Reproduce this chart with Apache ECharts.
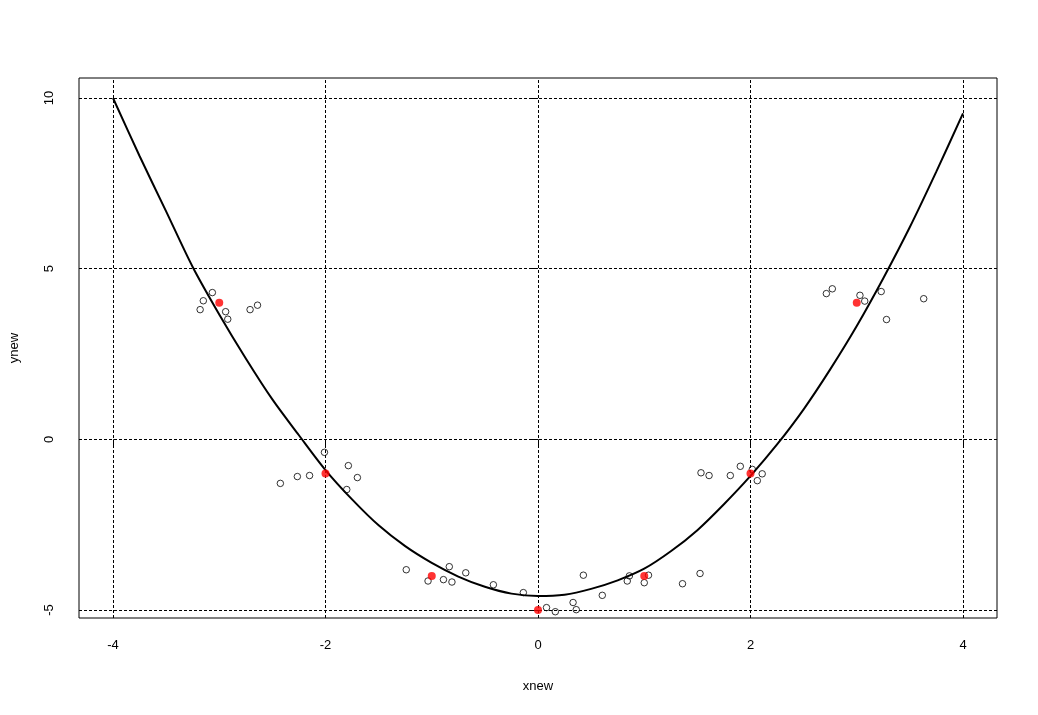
<!DOCTYPE html>
<html>
<head>
<meta charset="utf-8">
<script src="https://cdn.jsdelivr.net/npm/echarts@6/dist/echarts.min.js"></script>
<style>html,body{margin:0;padding:0;background:#fff;}#c{width:1038px;height:715px;}</style>
</head>
<body>
<div id="c"></div>
<script>
// fitted curve (xnew, ynew)
var curveX = [-4, -3.75, -3.5, -3.25, -3, -2.75, -2.5, -2.25, -2, -1.75, -1.5, -1.25, -1, -0.75, -0.5, -0.25, 0, 0.25, 0.5, 0.75, 1, 1.25, 1.5, 1.75, 2, 2.25, 2.5, 2.75, 3, 3.25, 3.5, 3.75, 4];
var curveY = [10.0, 8.3, 6.68, 5.05, 3.66, 2.37, 1.17, 0.12, -0.9, -1.76, -2.52, -3.13, -3.62, -4.02, -4.32, -4.52, -4.59, -4.55, -4.38, -4.13, -3.79, -3.28, -2.66, -1.9, -1.07, -0.15, 0.88, 2.05, 3.32, 4.72, 6.22, 7.85, 9.55];
// noisy observations (open circles)
var obsX = [-3.065, -3.15, -3.18, -2.94, -2.92, -2.71, -2.64,
            -2.01, -1.785, -1.70, -1.80, -2.15, -2.265, -2.425,
            -1.24, -1.035, -0.89, -0.835, -0.81, -0.68, -0.42,
            -0.138, 0.08, 0.163, 0.33, 0.36, 0.427,
            0.605, 0.84, 0.86, 1.0, 1.04, 1.36, 1.525,
            1.534, 1.61, 1.81, 1.904, 2.017, 2.11, 2.064,
            2.714, 2.77, 3.03, 3.075, 3.23, 3.28, 3.63];
var obsY = [4.30, 4.06, 3.80, 3.74, 3.52, 3.80, 3.93,
            -0.38, -0.77, -1.12, -1.47, -1.06, -1.09, -1.29,
            -3.82, -4.15, -4.11, -3.73, -4.18, -3.91, -4.26,
            -4.49, -4.93, -5.05, -4.78, -4.99, -3.98,
            -4.57, -4.15, -4.0, -4.2, -3.98, -4.23, -3.93,
            -0.98, -1.06, -1.06, -0.79, -0.88, -1.01, -1.21,
            4.27, 4.41, 4.22, 4.05, 4.33, 3.51, 4.12];
// true points (red)
var trueX = [-3, -2, -1, 0, 1, 2, 3];
var trueY = [4, -1, -4, -5, -4, -1, 4];
// ticks / grid
var xTicks = [-4, -2, 0, 2, 4];
var yTicks = [-5, 0, 5, 10];

function zip(a, b) { return a.map(function (v, i) { return [v, b[i]]; }); }

var font = 'Liberation Sans, Arial, sans-serif';
var chart = echarts.init(document.getElementById('c'), null, {renderer: 'canvas'});
var gridLines = xTicks.map(function (v) { return {xAxis: v}; })
  .concat(yTicks.map(function (v) { return {yAxis: v}; }));

chart.setOption({
  animation: false,
  backgroundColor: '#ffffff',
  grid: {left: 78, top: 78, width: 919, height: 540, show: true, borderColor: '#000', borderWidth: 1, backgroundColor: 'transparent'},
  xAxis: {
    type: 'value', min: -4.32, max: 4.32,
    name: 'xnew', nameLocation: 'middle', nameGap: 62,
    nameTextStyle: {color: '#000', fontSize: 13, fontFamily: font},
    axisLine: {show: false},
    splitLine: {show: false},
    axisTick: {show: true, length: 7, customValues: xTicks, lineStyle: {color: '#000', width: 1}},
    axisLabel: {customValues: xTicks, margin: 21, color: '#000', fontSize: 13, fontFamily: font}
  },
  yAxis: {
    type: 'value', min: -5.234, max: 10.586,
    name: 'ynew', nameLocation: 'middle', nameGap: 58, nameRotate: 90,
    nameTextStyle: {color: '#000', fontSize: 13, fontFamily: font},
    axisLine: {show: false},
    splitLine: {show: false},
    axisTick: {show: true, length: 7, customValues: yTicks, lineStyle: {color: '#000', width: 1}},
    axisLabel: {customValues: yTicks, rotate: 90, margin: 23, color: '#000', fontSize: 13, fontFamily: font}
  },
  series: [
    {
      type: 'line', data: zip(curveX, curveY), symbol: 'none', smooth: 0.3,
      lineStyle: {color: '#000', width: 2}, z: 3,
      markLine: {
        silent: true, symbol: 'none', label: {show: false},
        lineStyle: {color: '#000', width: 1, type: [3, 2]},
        data: gridLines
      }
    },
    {
      type: 'scatter', data: zip(obsX, obsY), symbol: 'circle', symbolSize: 6.5,
      itemStyle: {color: 'rgba(0,0,0,0)', borderColor: '#000', borderWidth: 1}, z: 4
    },
    {
      type: 'scatter', data: zip(trueX, trueY), symbol: 'circle', symbolSize: 8,
      itemStyle: {color: '#ff0000'}, z: 5
    }
  ]
});
</script>
</body>
</html>
